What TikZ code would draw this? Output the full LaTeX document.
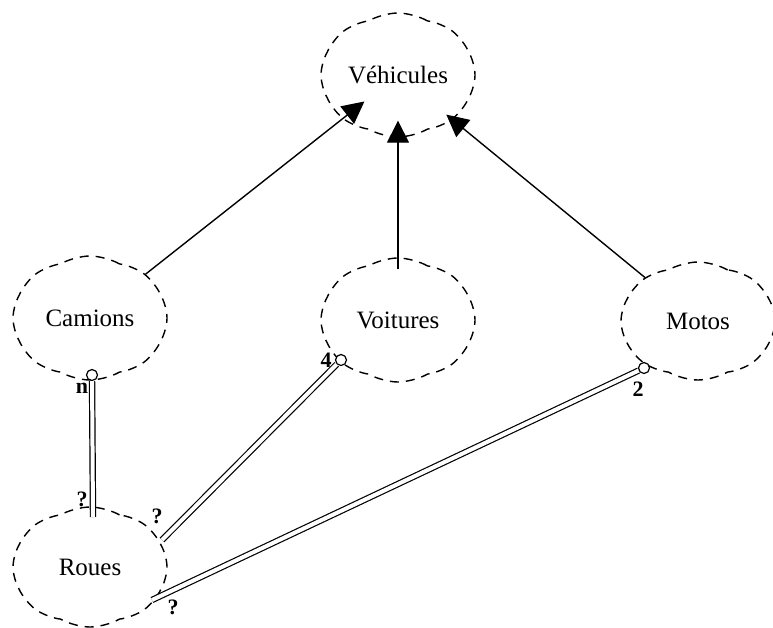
\documentclass[tikz,border=0pt]{standalone}
\usepackage{fontspec}
\setmainfont{Liberation Serif}
\usetikzlibrary{arrows.meta,calc,shapes.symbols}
\tikzset{cls/.style={cloud, cloud puffs=8, cloud puff arc=60, cloud ignores aspect, draw,
    dash pattern=on 9pt off 7pt, line width=1.4pt, minimum width=154pt, minimum height=124pt,
    font=\fontsize{25}{30}\selectfont},
  isa/.style={line width=1.4pt, -{Triangle[length=22pt, width=22pt]}},
  has/.style={double, double distance=4pt, line width=1.2pt},
  dot/.style={circle, draw, fill=white, line width=1.2pt, inner sep=0pt, minimum size=11pt},
  card/.style={font=\fontsize{22}{26}\selectfont\bfseries, inner sep=0pt}}

\begin{document}
\begin{tikzpicture}[x=1pt, y=-1pt]
  \useasboundingbox (0,0) rectangle (773,627);
  \node[cls] (veh)  at (398,75)  {Véhicules};
  \node[cls] (cam)  at (90,318)  {Camions};
  \node[cls] (voit) at (398,320) {Voitures};
  \node[cls, minimum height=118pt] (moto) at (698,321) {Motos};
  \node[cls, minimum height=120pt] (roue) at (90,567)  {Roues};
  % heritage
  \draw[isa, shorten >=-28pt] (cam) -- (veh);
  \draw[isa, shorten >=-17pt, shorten <=-12pt] (voit) -- (veh);
  \draw[isa, shorten >=-8pt] (moto) -- (veh);
  % aggregation
  \coordinate (rcam)  at ($(roue)+(3,-50)$);
  \coordinate (rvoit) at ($(roue)+(72,-27)$);
  \coordinate (rmoto) at ($(roue)+(62,33)$);
  \node[dot] (dcam)  at ($(cam)+(2,57)$) {};
  \node[dot] (dvoit) at ($(voit)+(-57,40)$) {};
  \node[dot] (dmoto) at ($(moto)+(-54,47)$) {};
  \draw[has] (dcam) -- (rcam);
  \draw[has] (dvoit) -- (rvoit);
  \draw[has] (dmoto) -- (rmoto);
  \node[card] (ncam)  at ($(dcam)+(-10,13)$) {n};
  \node[card] (nvoit) at ($(dvoit)+(-15,0)$) {4};
  \node[card] (nmoto) at ($(dmoto)+(-6,21)$) {2};
  \node[card] (qcam)  at ($(rcam)+(-11,-18)$) {?};
  \node[card] (qvoit) at ($(rvoit)+(-5,-24)$) {?};
  \node[card] (qmoto) at ($(rmoto)+(21,7)$) {?};
\end{tikzpicture}
\end{document}
